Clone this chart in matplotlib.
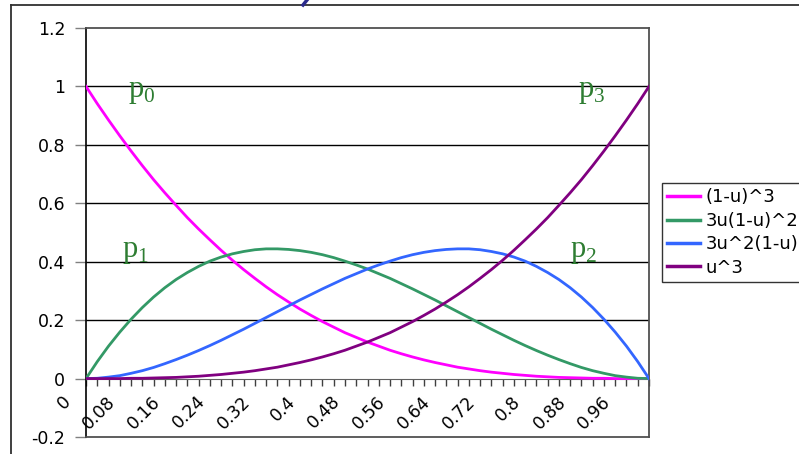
import matplotlib.pyplot as plt
import matplotlib.transforms as mtransforms
from matplotlib.lines import Line2D

# categories on the x axis (u), every 4th is labelled
u = ['0', '0.02', '0.04', '0.06', '0.08', '0.1', '0.12', '0.14', '0.16', '0.18',
     '0.2', '0.22', '0.24', '0.26', '0.28', '0.3', '0.32', '0.34', '0.36', '0.38',
     '0.4', '0.42', '0.44', '0.46', '0.48', '0.5', '0.52', '0.54', '0.56', '0.58',
     '0.6', '0.62', '0.64', '0.66', '0.68', '0.7', '0.72', '0.74', '0.76', '0.78',
     '0.8', '0.82', '0.84', '0.86', '0.88', '0.9', '0.92', '0.94', '0.96', '0.98', '1']
shown_labels = ['0', '0.08', '0.16', '0.24', '0.32', '0.4', '0.48', '0.56',
                '0.64', '0.72', '0.8', '0.88', '0.96']

b0 = [1.000, 0.941, 0.885, 0.831, 0.779, 0.729, 0.681, 0.636, 0.593, 0.551,
      0.512, 0.475, 0.439, 0.405, 0.373, 0.343, 0.314, 0.287, 0.262, 0.238,
      0.216, 0.195, 0.176, 0.157, 0.141, 0.125, 0.111, 0.097, 0.085, 0.074,
      0.064, 0.055, 0.047, 0.039, 0.033, 0.027, 0.022, 0.018, 0.014, 0.011,
      0.008, 0.006, 0.004, 0.003, 0.002, 0.001, 0.001, 0.000, 0.000, 0.000, 0.000]
b1 = [0.000, 0.058, 0.111, 0.159, 0.203, 0.243, 0.279, 0.311, 0.339, 0.363,
      0.384, 0.402, 0.416, 0.427, 0.435, 0.441, 0.444, 0.444, 0.442, 0.438,
      0.432, 0.424, 0.414, 0.402, 0.389, 0.375, 0.359, 0.343, 0.325, 0.307,
      0.288, 0.269, 0.249, 0.229, 0.209, 0.189, 0.169, 0.150, 0.131, 0.113,
      0.096, 0.080, 0.065, 0.051, 0.038, 0.027, 0.018, 0.010, 0.005, 0.001, 0.000]
b2 = [0.000, 0.001, 0.005, 0.010, 0.018, 0.027, 0.038, 0.051, 0.065, 0.080,
      0.096, 0.113, 0.131, 0.150, 0.169, 0.189, 0.209, 0.229, 0.249, 0.269,
      0.288, 0.307, 0.325, 0.343, 0.359, 0.375, 0.389, 0.402, 0.414, 0.424,
      0.432, 0.438, 0.442, 0.444, 0.444, 0.441, 0.435, 0.427, 0.416, 0.402,
      0.384, 0.363, 0.339, 0.311, 0.279, 0.243, 0.203, 0.159, 0.111, 0.058, 0.000]
b3 = [0.000, 0.000, 0.000, 0.000, 0.001, 0.001, 0.002, 0.003, 0.004, 0.006,
      0.008, 0.011, 0.014, 0.018, 0.022, 0.027, 0.033, 0.039, 0.047, 0.055,
      0.064, 0.074, 0.085, 0.097, 0.111, 0.125, 0.141, 0.157, 0.176, 0.195,
      0.216, 0.238, 0.262, 0.287, 0.314, 0.343, 0.373, 0.405, 0.439, 0.475,
      0.512, 0.551, 0.593, 0.636, 0.681, 0.729, 0.779, 0.831, 0.885, 0.941, 1.000]

series_names = ['(1-u)^3', '3u(1-u)^2', '3u^2(1-u)', 'u^3']
series_colors = ['#FF00FF', '#339966', '#3366FF', '#800080']

y_ticks = [-0.2, 0, 0.2, 0.4, 0.6, 0.8, 1, 1.2]
y_labels = ['-0.2', '0', '0.2', '0.4', '0.6', '0.8', '1', '1.2']

plt.rcParams['font.family'] = ['DejaVu Sans']
plt.rcParams['mathtext.fontset'] = 'custom'
plt.rcParams['mathtext.rm'] = 'Liberation Serif'

W, H = 799, 454
fig = plt.figure(figsize=(W / 100, H / 100), dpi=100)
ax = fig.add_axes([86 / W, 1 - 437 / H, (649 - 86) / W, (437 - 28) / H])

x = list(range(len(u)))
for vals, name, col in zip([b0, b1, b2, b3], series_names, series_colors):
    ax.plot(x, vals, color=col, lw=2.0, label=name, zorder=3)

ax.set_xlim(0, len(u) - 1)
ax.set_ylim(-0.2, 1.2)

ax.spines['bottom'].set_position(('data', 0))
ax.spines['bottom'].set_color('#606060')
ax.spines['left'].set_color('black')
ax.spines['left'].set_linewidth(1.2)
for s in ['top', 'right']:
    ax.spines[s].set_color('#505050')
    ax.spines[s].set_linewidth(1.3)
ax.plot([0, 1], [0, 0], transform=ax.transAxes, color='#505050', lw=1.3,
        clip_on=False, zorder=4)

# gridlines
for yv in y_ticks[2:-1]:
    ax.axhline(yv, color='black', lw=1, zorder=1)

ax.set_yticks(y_ticks)
ax.set_yticklabels(y_labels)
ax.tick_params(axis='y', direction='out', length=8, width=1, color='#808080',
               pad=7, labelsize=12.5)

ax.set_xticks(x)
ax.set_xticklabels([lab if lab in shown_labels else '' for lab in u])
ax.tick_params(axis='x', direction='out', length=5, width=1, color='#404040',
               pad=5, labelsize=12.5, labelrotation=45)
offset = mtransforms.ScaledTranslation(-12 / 100, 0, fig.dpi_scale_trans)
for lab in ax.get_xticklabels():
    lab.set_ha('right')
    lab.set_va('top')
    lab.set_transform(lab.get_transform() + offset)

# curve labels
green = '#2E7D32'
pfont = dict(family='Liberation Serif', size=22, color=green, va='baseline')
ax.text(3.7, 0.965, r'p$_\mathrm{0}$', **pfont)
ax.text(3.2, 0.415, r'p$_\mathrm{1}$', **pfont)
ax.text(43.0, 0.415, r'p$_\mathrm{2}$', **pfont)
ax.text(43.7, 0.965, r'p$_\mathrm{3}$', **pfont)

# outer chart frame, and the bit of the cut-off slide title above it
fig.add_artist(Line2D([11 / W, 1], [1 - 5 / H, 1 - 5 / H], color='#303030', lw=1.3))
fig.add_artist(Line2D([11 / W, 11 / W], [0, 1 - 5 / H], color='#303030', lw=1.3))
fig.add_artist(Line2D([303 / W, 307 / W], [1 - 5 / H, 1.0], color='#2B2B8C', lw=2.5))

leg = fig.legend(loc='upper left', bbox_to_anchor=(662 / W, 1 - 183 / H),
                 borderaxespad=0, fontsize=13, frameon=True, fancybox=False,
                 edgecolor='black', handlelength=1.8, handletextpad=0.3,
                 labelspacing=0.3, borderpad=0.3)
leg.get_frame().set_linewidth(1)
for line in leg.get_lines():
    line.set_linewidth(2.5)

fig.savefig('out.png', dpi=100)
